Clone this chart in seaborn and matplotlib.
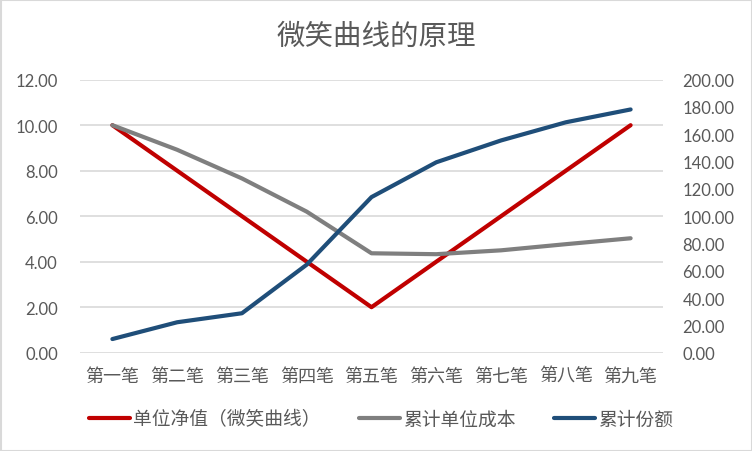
import matplotlib
matplotlib.use("Agg")
import matplotlib.pyplot as plt
import seaborn as sns
import pandas as pd
from matplotlib.patches import Rectangle
from matplotlib.ticker import FuncFormatter, MultipleLocator

categories = ["第一笔", "第二笔", "第三笔", "第四笔", "第五笔", "第六笔", "第七笔", "第八笔", "第九笔"]
nav = [10, 8, 6, 4, 2, 4, 6, 8, 10]
avg_cost = [10.0, 8.92, 7.66, 6.2, 4.37, 4.33, 4.5, 4.77, 5.03]
cum_shares = [10.0, 22.3, 28.9, 64.5, 114.0, 139.5, 155.5, 168.8, 178.2]
series_names = ["单位净值（微笑曲线）", "累计单位成本", "累计份额"]
title = "微笑曲线的原理"

sns.set_theme(style="white")
plt.rcParams["font.family"] = ["Noto Sans CJK SC", "DejaVu Sans"]

TXT = "#595959"
GRID = "#D9D9D9"
cn_font = ["Noto Sans CJK SC", "DejaVu Sans"]
num_font = ["Lato", "DejaVu Sans"]

df = pd.DataFrame({"cat": categories, "nav": nav, "cost": avg_cost, "shares": cum_shares})

fig = plt.figure(figsize=(7.52, 4.52), dpi=100)
ax = fig.add_axes([80 / 752, (452 - 353.7) / 452, 583 / 752, 273 / 452])
ax2 = ax.twinx()

sns.lineplot(data=df, x="cat", y="nav", ax=ax, color="#C00000", linewidth=3,
             label=series_names[0], sort=False, legend=False)
sns.lineplot(data=df, x="cat", y="cost", ax=ax, color="#7F7F7F", linewidth=3,
             label=series_names[1], sort=False, legend=False)
sns.lineplot(data=df, x="cat", y="shares", ax=ax2, color="#1F4E79", linewidth=3,
             label=series_names[2], sort=False, legend=False)

for a in (ax, ax2):
    for s in a.spines.values():
        s.set_visible(False)
    a.set_xlabel("")
    a.set_ylabel("")

ax.set_xlim(-0.5, len(categories) - 0.5)
ax.set_ylim(0, 12)
ax.yaxis.set_major_locator(MultipleLocator(2))
ax2.set_ylim(0, 200)
ax2.yaxis.set_major_locator(MultipleLocator(20))
fmt = FuncFormatter(lambda v, p: f"{v:.2f}")
ax.yaxis.set_major_formatter(fmt)
ax2.yaxis.set_major_formatter(fmt)

ax.grid(axis="y", color=GRID, linewidth=1.2)
ax.grid(axis="x", visible=False)
ax2.grid(False)
ax.set_axisbelow(True)

ax.tick_params(axis="y", length=0, pad=16, labelcolor=TXT)
ax2.tick_params(axis="y", length=0, pad=14, labelcolor=TXT)
ax.tick_params(axis="x", length=0, pad=10, labelcolor=TXT)
for lab in ax.get_yticklabels() + ax2.get_yticklabels():
    lab.set_fontfamily(num_font)
    lab.set_fontsize(12)
for lab in ax.get_xticklabels():
    lab.set_fontfamily(cn_font)
    lab.set_fontsize(13)

fig.text(376 / 752, 1 - 37 / 452, title, ha="center", va="center",
         fontsize=20.5, color=TXT, family=cn_font)

h1, l1 = ax.get_legend_handles_labels()
h2, l2 = ax2.get_legend_handles_labels()
leg = fig.legend(h1 + h2, l1 + l2, loc="center", bbox_to_anchor=(381 / 752, 1 - 420 / 452),
                 ncol=3, frameon=False, handlelength=2.2, handletextpad=0.2,
                 columnspacing=2.0, prop={"family": cn_font, "size": 13.5})
for t in leg.get_texts():
    t.set_color(TXT)

fig.patches.append(Rectangle((0.5 / 752, 0.5 / 452), 751 / 752, 451 / 452,
                             transform=fig.transFigure, fill=False,
                             edgecolor=GRID, linewidth=1.5))

fig.savefig("out.png", dpi=100, facecolor="white")
